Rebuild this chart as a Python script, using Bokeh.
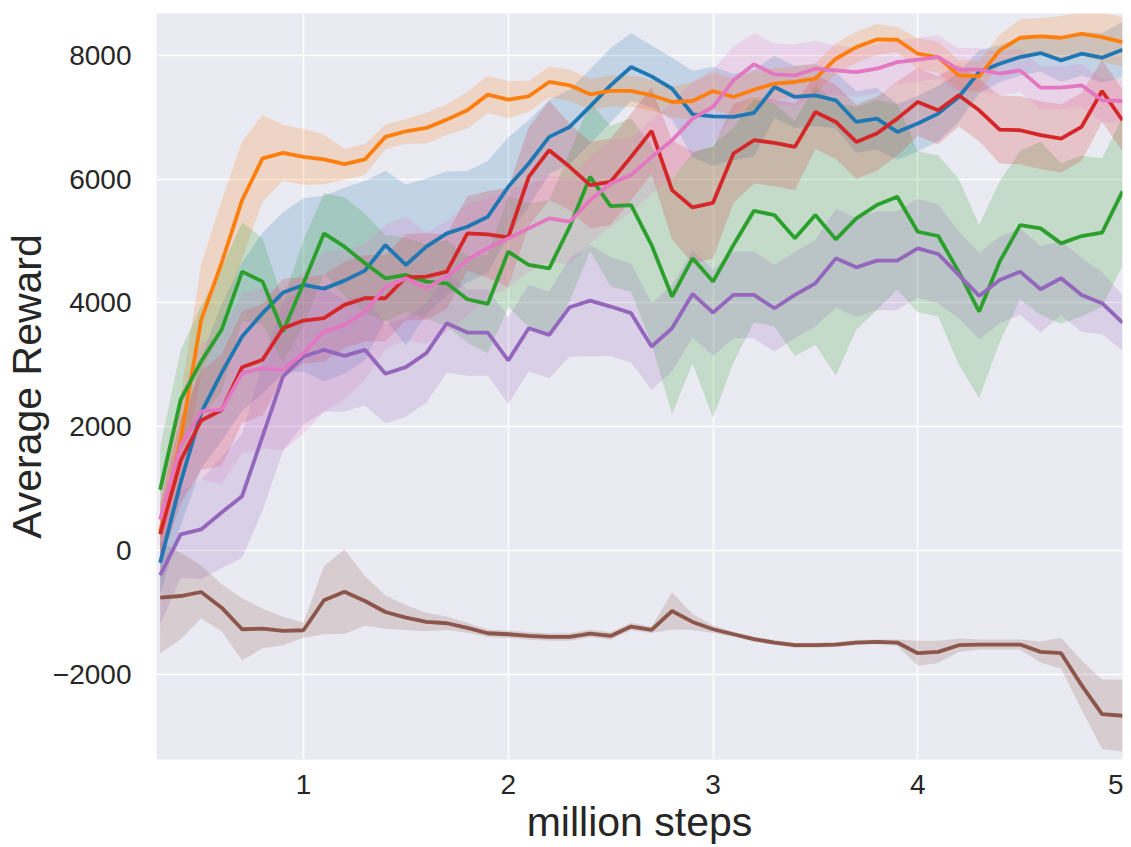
from bokeh.plotting import figure
from bokeh.models import Range1d, FixedTicker
from bokeh.embed import file_html
from bokeh.resources import INLINE

steps = [0.3, 0.4, 0.5, 0.6, 0.7, 0.8, 0.9, 1.0, 1.1, 1.2, 1.3, 1.4, 1.5, 1.6, 1.7, 1.8,
         1.9, 2.0, 2.1, 2.2, 2.3, 2.4, 2.5, 2.6, 2.7, 2.8, 2.9, 3.0, 3.1, 3.2, 3.3, 3.4,
         3.5, 3.6, 3.7, 3.8, 3.9, 4.0, 4.1, 4.2, 4.3, 4.4, 4.5, 4.6, 4.7, 4.8, 4.9, 5.0]

blue = [-200, 1100, 2225, 2870, 3457, 3834, 4167, 4290, 4231, 4360, 4522, 4935, 4613, 4909, 5124, 5231,
        5392, 5876, 6253, 6683, 6844, 7177, 7516, 7812, 7661, 7462, 7048, 7016, 7005, 7070, 7489, 7328,
        7355, 7274, 6924, 6978, 6763, 6898, 7059, 7328, 7731, 7866, 7973, 8038, 7919, 8027, 7963, 8091]
blue_sd = [500, 700, 900, 1100, 1200, 1300, 1300, 1400, 1500, 1500, 1450, 1200, 1300, 1100, 1000, 900,
           900, 800, 700, 600, 600, 600, 600, 550, 500, 500, 700, 800, 700, 700, 500, 500,
           500, 450, 500, 500, 450, 450, 450, 400, 350, 300, 300, 300, 350, 350, 400, 450]

orange = [300, 1800, 3725, 4645, 5660, 6335, 6425, 6360, 6318, 6242, 6318, 6683, 6774, 6828, 6962, 7113,
          7366, 7285, 7339, 7570, 7516, 7371, 7425, 7425, 7355, 7247, 7263, 7425, 7328, 7446, 7543, 7570,
          7624, 7946, 8134, 8258, 8253, 8027, 7970, 7677, 7661, 8081, 8285, 8306, 8285, 8349, 8296, 8215]
orange_sd = [400, 700, 900, 1000, 950, 700, 450, 450, 400, 250, 250, 200, 200, 250, 250, 300,
             300, 300, 250, 250, 250, 250, 250, 250, 250, 250, 300, 300, 300, 300, 250, 250,
             250, 250, 250, 250, 200, 250, 250, 250, 250, 250, 300, 300, 350, 350, 400, 400]

green = [980, 2435, 3054, 3565, 4505, 4344, 3538, 4317, 5124, 4909, 4640, 4398, 4452, 4344, 4317, 4059,
         3984, 4828, 4613, 4559, 5231, 6038, 5565, 5581, 4935, 4102, 4720, 4344, 4935, 5489, 5419, 5043,
         5419, 5027, 5365, 5581, 5715, 5150, 5081, 4505, 3860, 4666, 5258, 5204, 4962, 5081, 5134, 5801]
green_sd = [700, 800, 900, 1000, 800, 700, 500, 700, 650, 800, 800, 700, 600, 600, 700, 700,
            800, 900, 1000, 1100, 1200, 1200, 1300, 1400, 1600, 1900, 1700, 2200, 1900, 1800, 1800, 1900,
            2100, 2200, 1800, 1700, 1500, 1300, 1300, 1500, 1400, 1300, 1200, 1400, 1300, 1300, 1200, 1200]

red = [260, 1450, 2100, 2270, 2960, 3081, 3591, 3715, 3753, 3968, 4075, 4075, 4414, 4425, 4505, 5124,
       5108, 5059, 6038, 6468, 6199, 5903, 5957, 6360, 6780, 5823, 5543, 5618, 6414, 6629, 6586, 6521,
       7086, 6924, 6602, 6737, 6978, 7247, 7113, 7355, 7113, 6801, 6790, 6710, 6656, 6844, 7425, 6952]
red_sd = [500, 700, 800, 900, 900, 900, 800, 700, 700, 700, 700, 700, 700, 700, 600, 600,
          700, 800, 800, 800, 700, 700, 700, 700, 700, 800, 900, 900, 800, 700, 700, 700,
          600, 600, 600, 600, 600, 550, 550, 500, 500, 550, 550, 550, 550, 550, 500, 500]

purple = [-400, 258, 339, 613, 876, 1844, 2811, 3134, 3242, 3145, 3242, 2855, 2962, 3188, 3672, 3521,
          3521, 3070, 3591, 3484, 3930, 4037, 3941, 3834, 3296, 3591, 4145, 3844, 4129, 4129, 3914, 4129,
          4317, 4720, 4575, 4683, 4683, 4882, 4790, 4452, 4113, 4371, 4505, 4220, 4398, 4129, 3995, 3683]
purple_sd = [800, 700, 800, 900, 1000, 1200, 1200, 1100, 1000, 900, 900, 800, 800, 800, 800, 700,
             700, 700, 700, 700, 800, 900, 800, 800, 700, 700, 700, 700, 700, 700, 700, 700,
             700, 800, 800, 800, 800, 800, 800, 700, 700, 700, 700, 700, 600, 600, 500, 450]

brown = [-763, -737, -672, -925, -1274, -1263, -1301, -1290, -806, -667, -817, -995, -1086, -1156, -1177, -1252,
         -1339, -1355, -1382, -1398, -1398, -1344, -1382, -1231, -1285, -979, -1156, -1274, -1355, -1435, -1489, -1532,
         -1532, -1521, -1489, -1478, -1489, -1661, -1640, -1532, -1521, -1521, -1521, -1640, -1661, -2177, -2645, -2672]
brown_sd = [900, 700, 430, 380, 500, 320, 230, 120, 550, 680, 400, 270, 200, 150, 110, 80,
            60, 60, 60, 60, 60, 60, 60, 60, 50, 300, 130, 60, 40, 40, 40, 40,
            40, 40, 40, 40, 50, 200, 180, 110, 80, 80, 80, 170, 250, 400, 560, 580]

pink = [500, 1700, 2247, 2274, 2866, 2946, 2919, 3188, 3538, 3645, 3860, 4253, 4398, 4237, 4425, 4694,
        4887, 5043, 5204, 5366, 5312, 5661, 5930, 6065, 6360, 6629, 6978, 7167, 7597, 7855, 7694, 7677,
        7785, 7758, 7731, 7785, 7892, 7930, 7973, 7769, 7769, 7704, 7758, 7479, 7479, 7516, 7274, 7263]
pink_sd = [600, 800, 1100, 1200, 1300, 1300, 1300, 1300, 1300, 1200, 1100, 1000, 1000, 900, 900, 900,
           800, 800, 700, 700, 700, 700, 700, 600, 600, 600, 600, 600, 550, 500, 500, 500,
           450, 400, 400, 400, 350, 350, 350, 350, 350, 350, 350, 350, 350, 350, 350, 350]

x_ticks = [1, 2, 3, 4, 5]
y_ticks = [-2000, 0, 2000, 4000, 6000, 8000]

series = [
    (blue, blue_sd, "#1f77b4"),
    (orange, orange_sd, "#ff7f0e"),
    (green, green_sd, "#2ca02c"),
    (red, red_sd, "#d62728"),
    (purple, purple_sd, "#9467bd"),
    (brown, brown_sd, "#8c564b"),
    (pink, pink_sd, "#e377c2"),
]

p = figure(width=1123, height=847, output_backend="svg", toolbar_location=None,
           x_range=Range1d(0.282, 5.0), y_range=Range1d(-3379, 8677),
           min_border_left=156, min_border_right=1, min_border_top=13, min_border_bottom=80)
p.background_fill_color = "#EAEAF2"
p.border_fill_color = "white"
p.outline_line_color = None

for mean, sd, col in series:
    lo = [m - s for m, s in zip(mean, sd)]
    hi = [m + s for m, s in zip(mean, sd)]
    p.varea(x=steps, y1=lo, y2=hi, fill_color=col, fill_alpha=0.2)

for mean, sd, col in series:
    p.line(x=steps, y=mean, line_color=col, line_width=3.8)

p.xaxis.ticker = FixedTicker(ticks=x_ticks)
p.yaxis.ticker = FixedTicker(ticks=y_ticks)
p.yaxis.major_label_overrides = {-2000: "\u22122000"}

for g in (p.xgrid, p.ygrid):
    g.grid_line_color = "white"
    g.grid_line_width = 1.6

for ax in (p.xaxis, p.yaxis):
    ax.axis_line_color = None
    ax.major_tick_line_color = None
    ax.minor_tick_line_color = None
    ax.major_label_text_font = "Liberation Sans"
    ax.major_label_text_font_size = "28px"
    ax.major_label_text_color = "#262626"
    ax.axis_label_text_font = "Liberation Sans"
    ax.axis_label_text_font_size = "41px"
    ax.axis_label_text_font_style = "normal"
    ax.axis_label_text_color = "#262626"

p.xaxis.axis_label = "million steps"
p.yaxis.axis_label = "Average Reward"
p.xaxis.major_label_standoff = 9
p.yaxis.major_label_standoff = 19
p.xaxis.axis_label_standoff = 2
p.yaxis.axis_label_standoff = 0

open("out.html", "w").write(file_html(p, INLINE))
